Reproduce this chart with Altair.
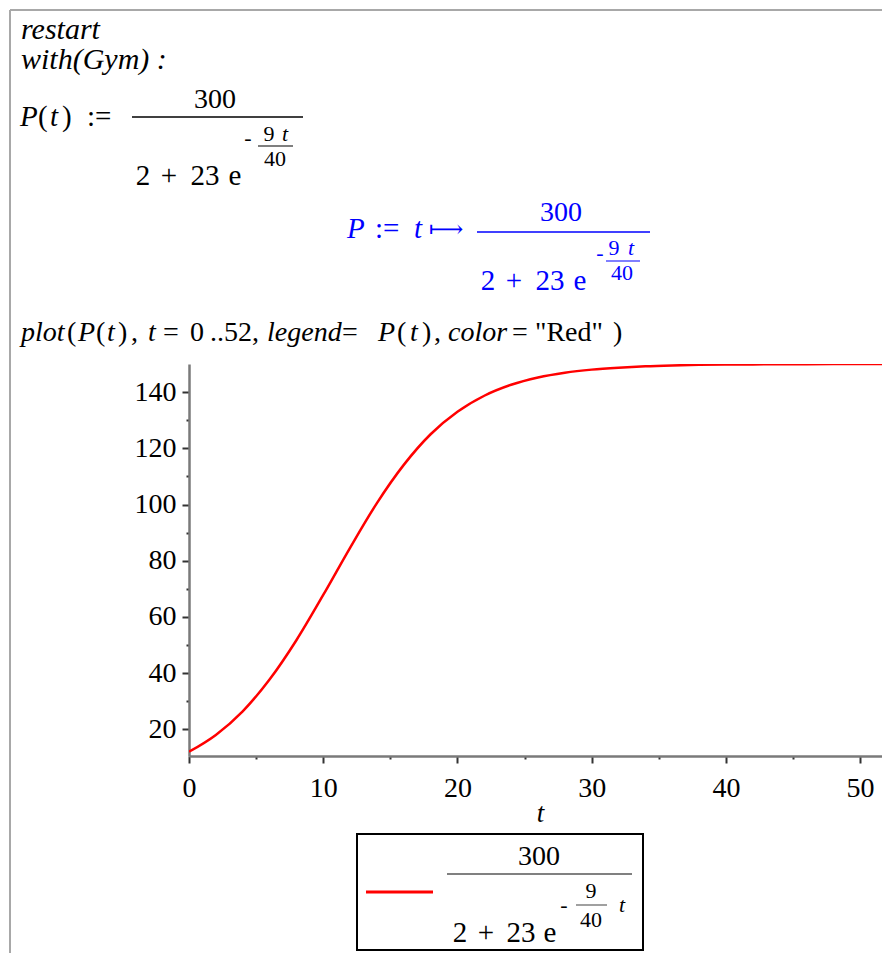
import altair as alt
import pandas as pd

# ---- data ----
t_vals = [0, 2, 4, 6, 8, 10, 12, 14, 16, 18, 20, 22, 24, 26, 28, 30, 32, 34, 36, 38, 40, 42, 44, 46, 48, 50, 52]
p_vals = [12.0, 18.0, 26.4, 37.7, 51.7, 67.8, 84.6, 100.5, 114.1, 125.0, 133.0, 138.7, 142.6, 145.2, 146.9,
          148.0, 148.7, 149.2, 149.5, 149.7, 149.8, 149.86, 149.91, 149.94, 149.96, 149.97, 149.98]
x_ticks = [0, 5, 10, 15, 20, 25, 30, 35, 40, 45, 50]
y_ticks = [20, 30, 40, 50, 60, 70, 80, 90, 100, 110, 120, 130, 140]

df = pd.DataFrame({"t": t_vals, "P": p_vals})

X0, Y0 = 189, 364   # page position of plot origin
W, H = 693, 392     # 13.41 px per unit of t, 2.813 px per unit of P
SERIF = "Liberation Serif"
one = pd.DataFrame({"k": [0]})


def txt(s, X, Y, size=28, italic=False, color="black", align="left", baseline="middle", font=SERIF):
    return alt.Chart(one).mark_text(
        text=s, font=font, fontSize=size, fontStyle="italic" if italic else "normal",
        color=color, align=align, baseline=baseline
    ).encode(x=alt.value(X - X0), y=alt.value(Y - Y0))


def hline(Xa, Xb, Y, color="black", w=1.5):
    return alt.Chart(one).mark_rule(color=color, strokeWidth=w).encode(
        x=alt.value(Xa - X0), x2=alt.value(Xb - X0), y=alt.value(Y - Y0))


def vline(X, Ya, Yb, color="black", w=1.5):
    return alt.Chart(one).mark_rule(color=color, strokeWidth=w).encode(
        x=alt.value(X - X0), y=alt.value(Ya - Y0), y2=alt.value(Yb - Y0))


line = alt.Chart(df).mark_line(color="#ff0000", strokeWidth=2.5, interpolate="monotone", clip=True).encode(
    x=alt.X("t:Q", scale=alt.Scale(domain=[0, 51.63], nice=False, zero=False),
            axis=alt.Axis(values=x_ticks, title="t", titleFontStyle="italic", titleFont=SERIF,
                          titleFontSize=27, titleFontWeight="normal", titleColor="black",
                          titleX=351, titleY=57, titleBaseline="middle",
                          labelExpr="datum.value % 10 === 0 ? datum.label : ''",
                          tickSize={"condition": {"test": "datum.value % 10 === 0", "value": 7}, "value": 3},
                          labelPadding=11)),
    y=alt.Y("P:Q", scale=alt.Scale(domain=[10.5, 150], nice=False, zero=False),
            axis=alt.Axis(values=y_ticks, title=None,
                          labelExpr="datum.value % 20 === 0 ? datum.label : ''",
                          tickSize={"condition": {"test": "datum.value % 20 === 0", "value": 7}, "value": 3},
                          labelPadding=6)),
)

layers = [line]

# worksheet frame
layers.append(vline(10, 10, 961, color="#a8a8a8", w=2))
layers.append(hline(10, 890, 10, color="#a8a8a8", w=2))

# input lines
layers.append(txt("restart", 21, 30, size=30, italic=True))
layers.append(txt("with(Gym) :", 21, 60, size=30, italic=True))

# P(t) := 300 / (2 + 23 e^(-9t/40))
for s, X, it in [("P", 20, True), ("(", 38, False), ("t", 50, True), (")", 62, False), (":=", 87, False)]:
    layers.append(txt(s, X, 117, size=29, italic=it))
layers.append(txt("300", 215, 100, size=28, align="center"))
layers.append(hline(132, 303, 117))
for s, X in [("2", 143), ("+", 169), ("23", 205), ("e", 235)]:
    layers.append(txt(s, X, 185, size=29, align="center", baseline="alphabetic"))
layers.append(txt("-", 248, 138, size=22, align="center"))
layers.append(txt("9", 269, 134, size=22, align="center"))
layers.append(txt("t", 285, 134, size=22, italic=True, align="center"))
layers.append(hline(258, 293, 146, w=1.2))
layers.append(txt("40", 275, 159, size=22, align="center"))

# blue output
BLUE = "#0000ff"
layers.append(txt("P", 347, 229, size=29, italic=True, color=BLUE))
layers.append(txt(":=", 375, 229, size=29, color=BLUE))
layers.append(txt("t", 414, 229, size=29, italic=True, color=BLUE))
layers.append(txt("\u27fc", 429, 230, size=24, color=BLUE, font="DejaVu Serif"))
layers.append(txt("300", 561, 213, size=28, color=BLUE, align="center"))
layers.append(hline(477, 650, 232, color=BLUE))
for s, X in [("2", 488), ("+", 514), ("23", 550), ("e", 580)]:
    layers.append(txt(s, X, 290, size=29, color=BLUE, align="center", baseline="alphabetic"))
layers.append(txt("-", 600, 253, size=22, color=BLUE, align="center"))
layers.append(txt("9", 614, 248, size=22, color=BLUE, align="center"))
layers.append(txt("t", 631, 248, size=22, italic=True, color=BLUE, align="center"))
layers.append(hline(606, 640, 261, color=BLUE, w=1.2))
layers.append(txt("40", 622, 273, size=22, color=BLUE, align="center"))

# plot command
PY = 333
cmd = [("plot", 21, True), ("(", 67, False), ("P", 78, True), ("(", 96, False), ("t", 107, True),
       (")", 118, False), (",", 131, False), ("t", 148, True), ("=", 163, False), ("0", 190, False),
       ("..52,", 210, False), ("legend", 267, True), ("=", 342, False), ("P", 378, True), ("(", 397, False),
       ("t", 410, True), (")", 422, False), (",", 434, False), ("color", 448, True), ("=", 512, False),
       ("\"Red\"", 535, False), (")", 613, False)]
for s, X, it in cmd:
    layers.append(txt(s, X, PY, size=28, italic=it))

# legend box
legend_box = alt.Chart(one).mark_rect(fill="white", stroke="black", strokeWidth=2).encode(
    x=alt.value(357 - X0), x2=alt.value(643 - X0), y=alt.value(834 - Y0), y2=alt.value(950 - Y0))
layers.append(legend_box)
layers.append(hline(366, 433, 892, color="#ff0000", w=3))
layers.append(txt("300", 539, 857, size=28, align="center"))
layers.append(hline(447, 632, 874, color="#808080", w=2))
for s, X in [("2", 460), ("+", 486), ("23", 521), ("e", 550)]:
    layers.append(txt(s, X, 942, size=29, align="center", baseline="alphabetic"))
layers.append(txt("-", 564, 905, size=22, align="center"))
layers.append(txt("9", 591, 891, size=22, align="center"))
layers.append(hline(576, 607, 905, color="#808080", w=1.5))
layers.append(txt("40", 591, 920, size=22, align="center"))
layers.append(txt("t", 622, 905, size=22, italic=True, align="center"))

chart = alt.layer(*layers).properties(
    width=W, height=H,
    autosize=alt.AutoSizeParams(type="none"),
    padding={"left": X0 - 8, "top": Y0 - 8, "right": 0, "bottom": 197},
).configure_view(strokeWidth=0).configure_axis(
    domainColor="#7a7a7a", domainWidth=2.5, tickColor="#333333", tickWidth=2,
    labelFont=SERIF, labelFontSize=28, labelColor="black", grid=False, labelOverlap=False,
    labelFlush=False
)

chart.save("out.html", embed_options={"renderer": "svg", "actions": False})
